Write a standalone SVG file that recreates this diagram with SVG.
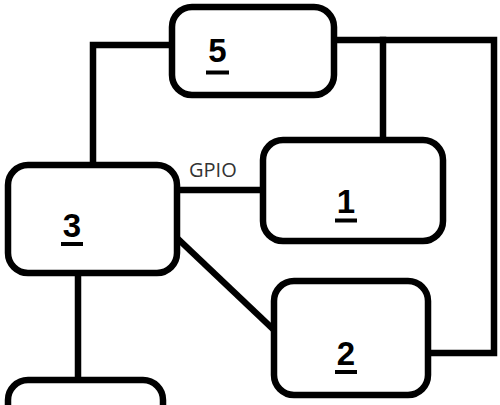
<svg xmlns="http://www.w3.org/2000/svg" width="500" height="405" viewBox="0 0 500 405">
<style>
.box{fill:#fff;stroke:#000;stroke-width:6.5}
.wire{fill:none;stroke:#000;stroke-width:6.5;stroke-linejoin:miter;stroke-linecap:square}
.num{font-family:"Liberation Sans",Arial,sans-serif;font-weight:bold;font-size:33px;text-anchor:middle;fill:#000}
.ul{stroke:#000;stroke-width:4}
.lbl{font-family:"Open Sans","Liberation Sans",sans-serif;font-size:20px;fill:#333}
</style>
<rect width="500" height="405" fill="#fff"/>
<g id="connectors">
<polyline class="wire" points="172,45 93,45 93,165"/>
<polyline class="wire" points="334,40 494,40 494,353 428,353"/>
<line class="wire" x1="383" y1="40" x2="383" y2="140"/>
<line class="wire" x1="177" y1="190" x2="263" y2="190"/>
<line class="wire" x1="177" y1="238" x2="274" y2="330" style="stroke-linecap:butt"/>
<line class="wire" x1="78" y1="273" x2="78" y2="380"/>
<text class="lbl" x="189" y="176.5">GPIO</text>
</g>
<g id="node5">
<rect class="box" x="172" y="7" width="162" height="88" rx="20"/>
<text class="num" x="217.5" y="62">5</text>
<line class="ul" x1="206" y1="72.5" x2="229" y2="72.5"/>
</g>
<g id="node1">
<rect class="box" x="263" y="140" width="180" height="101" rx="20"/>
<text class="num" x="346" y="213">1</text>
<line class="ul" x1="335" y1="220.5" x2="357" y2="220.5"/>
</g>
<g id="node3">
<rect class="box" x="8" y="165" width="169" height="108" rx="20"/>
<text class="num" x="72" y="237">3</text>
<line class="ul" x1="61" y1="244" x2="83" y2="244"/>
</g>
<g id="node2">
<rect class="box" x="274" y="281" width="154" height="114" rx="20"/>
<text class="num" x="346" y="365">2</text>
<line class="ul" x1="335" y1="372" x2="357" y2="372"/>
</g>
<g id="node4">
<rect class="box" x="8" y="380" width="155" height="60" rx="20"/>
</g>
</svg>
